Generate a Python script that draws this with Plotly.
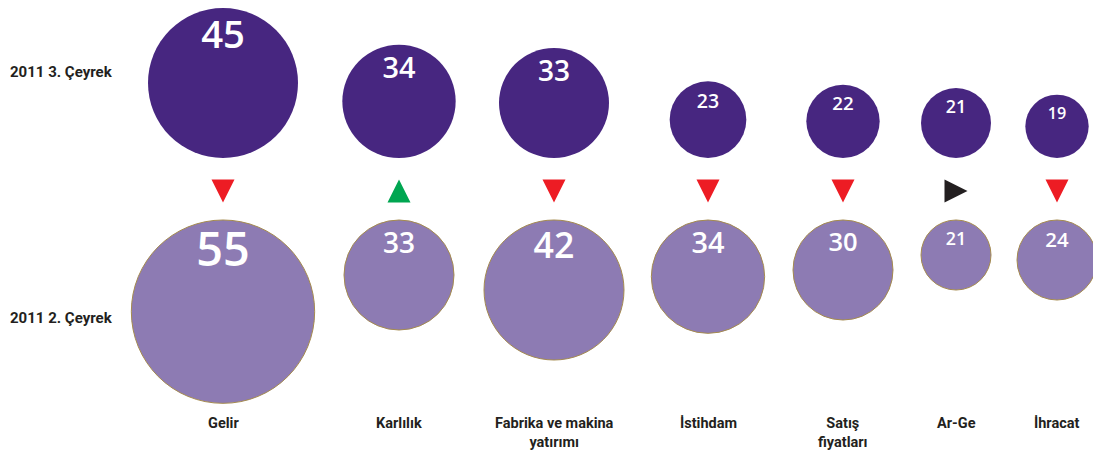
import plotly.graph_objects as go

# ---------------- data ----------------
categories = ["Gelir", "Karlılık", "Fabrika ve makina<br>yatırımı", "İstihdam",
              "Satış<br>fiyatları", "Ar-Ge", "İhracat"]
q3_values = [45, 34, 33, 23, 22, 21, 19]   # 2011 3. Çeyrek
q2_values = [55, 33, 42, 34, 30, 21, 24]   # 2011 2. Çeyrek
row_labels = ["2011 3. Çeyrek", "2011 2. Çeyrek"]

# ---------------- layout constants (pixel-space axes) ----------------
W, H = 1093, 454
col_x = [223, 399, 554, 708, 843, 956, 1057]
PX_PER_UNIT = 10 / 3          # circle diameter per unit of value
FONT_PER_UNIT = 0.85          # number font size per unit of value
TOP_BASE = 158                # bottom edge of the Q3 row
BOT_BASE = 220                # top edge of the Q2 row
ARROW_Y = 191
ARROW_HALF = 11.5
LABEL_Y = 413

DARK = "#472680"
LIGHT = "#8d7bb3"
EDGE = "#a58b4f"
TXT = "#231f20"

d3 = [v * PX_PER_UNIT for v in q3_values]
d2 = [v * PX_PER_UNIT for v in q2_values]
top3 = [TOP_BASE - d for d in d3]
top2 = [BOT_BASE for _ in d2]

fig = go.Figure()

# Q3 circles (bottom aligned)
fig.add_trace(go.Scatter(
    x=col_x, y=[TOP_BASE - d / 2 for d in d3], mode="markers",
    marker=dict(size=d3, sizemode="diameter", color=DARK, opacity=1, line=dict(width=0)),
    hoverinfo="skip", showlegend=False))

# Q2 circles (top aligned)
fig.add_trace(go.Scatter(
    x=col_x, y=[BOT_BASE + d / 2 for d in d2], mode="markers",
    marker=dict(size=d2, sizemode="diameter", color=LIGHT, opacity=1,
                line=dict(width=1, color=EDGE)),
    hoverinfo="skip", showlegend=False, cliponaxis=False))

# numbers
for vals, tops in ((q3_values, top3), (q2_values, top2)):
    fs = [v * FONT_PER_UNIT for v in vals]
    fig.add_trace(go.Scatter(
        x=col_x, y=[t + 12 + 0.485 * f for t, f in zip(tops, fs)],
        mode="text", text=[str(v) for v in vals], textposition="middle center",
        textfont=dict(family="Open Sans", size=fs, color="white", weight=600),
        hoverinfo="skip", showlegend=False))

# change arrows (derived from data)
sym, col, ax, ay = [], [], [], []
for x, a, b in zip(col_x, q3_values, q2_values):
    if a > b:
        sym.append("arrow-up"); col.append("#00a651"); ax.append(x); ay.append(ARROW_Y - ARROW_HALF)
    elif a < b:
        sym.append("arrow-down"); col.append("#ed1c24"); ax.append(x); ay.append(ARROW_Y + ARROW_HALF)
    else:
        sym.append("arrow-right"); col.append("#231f20"); ax.append(x + ARROW_HALF); ay.append(ARROW_Y)
fig.add_trace(go.Scatter(
    x=ax, y=ay, mode="markers",
    marker=dict(symbol=sym, size=2 * ARROW_HALF, color=col, opacity=1, line=dict(width=0)),
    hoverinfo="skip", showlegend=False))

annotations = []
for lbl, yy in zip(row_labels, [72, 318]):
    annotations.append(dict(x=8, y=yy, xref="x", yref="y", text=lbl, showarrow=False,
                            xanchor="left", yanchor="middle",
                            font=dict(family="Roboto", size=15, color=TXT, weight=700)))
for x, c in zip(col_x, categories):
    annotations.append(dict(x=x, y=LABEL_Y, xref="x", yref="y", text=c, showarrow=False,
                            xanchor="center", yanchor="top", align="center",
                            font=dict(family="Roboto", size=14.5, color=TXT, weight=700)))

fig.update_layout(
    width=W, height=H, margin=dict(l=0, r=0, t=0, b=0),
    paper_bgcolor="white", plot_bgcolor="white",
    xaxis=dict(range=[0, W], visible=False, fixedrange=True),
    yaxis=dict(range=[H, 0], visible=False, fixedrange=True),
    annotations=annotations,
)

fig.write_html(
    "out.html",
    config={"displayModeBar": False},
    post_script="document.body.style.margin='0';document.body.style.overflow='hidden';",
)
